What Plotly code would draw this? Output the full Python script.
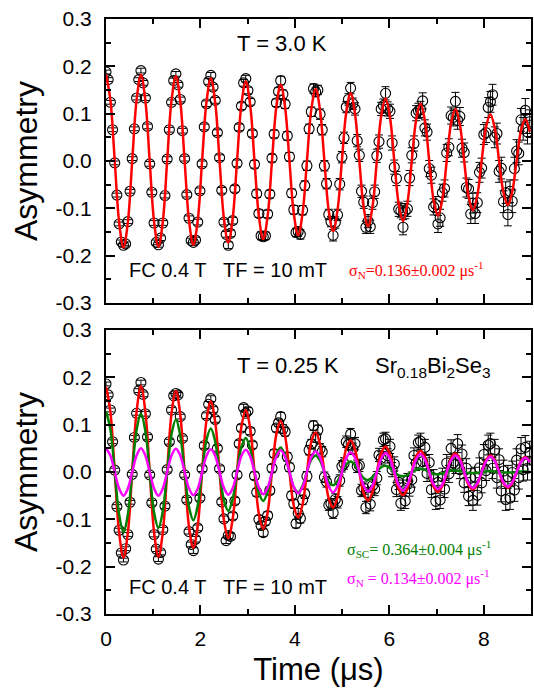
import plotly.graph_objects as go

# ---------------- data ----------------
time_us = [
    0.000, 0.046, 0.093, 0.139, 0.185, 0.231, 0.278, 0.324, 0.370, 0.416, 0.463, 0.509, 0.555, 0.601, 0.648, 0.694,
    0.740, 0.786, 0.833, 0.879, 0.925, 0.971, 1.018, 1.064, 1.110, 1.156, 1.203, 1.249, 1.295, 1.341, 1.388, 1.434,
    1.480, 1.526, 1.573, 1.619, 1.665, 1.711, 1.758, 1.804, 1.850, 1.896, 1.943, 1.989, 2.035, 2.081, 2.128, 2.174,
    2.220, 2.266, 2.313, 2.359, 2.405, 2.451, 2.498, 2.544, 2.590, 2.636, 2.683, 2.729, 2.775, 2.821, 2.868, 2.914,
    2.960, 3.006, 3.053, 3.099, 3.145, 3.191, 3.238, 3.284, 3.330, 3.376, 3.423, 3.469, 3.515, 3.561, 3.608, 3.654,
    3.700, 3.746, 3.793, 3.839, 3.885, 3.931, 3.978, 4.024, 4.070, 4.116, 4.163, 4.209, 4.255, 4.301, 4.348, 4.394,
    4.440, 4.486, 4.533, 4.579, 4.625, 4.671, 4.718, 4.764, 4.810, 4.856, 4.903, 4.949, 4.995, 5.041, 5.088, 5.134,
    5.180, 5.226, 5.273, 5.319, 5.365, 5.411, 5.458, 5.504, 5.550, 5.596, 5.643, 5.689, 5.735, 5.781, 5.828, 5.874,
    5.920, 5.966, 6.013, 6.059, 6.105, 6.151, 6.198, 6.244, 6.290, 6.336, 6.383, 6.429, 6.475, 6.521, 6.568, 6.614,
    6.660, 6.706, 6.753, 6.799, 6.845, 6.891, 6.938, 6.984, 7.030, 7.076, 7.123, 7.169, 7.215, 7.261, 7.308, 7.354,
    7.400, 7.446, 7.493, 7.539, 7.585, 7.631, 7.678, 7.724, 7.770, 7.816, 7.863, 7.909, 7.955, 8.001, 8.048, 8.094,
    8.140, 8.186, 8.233, 8.279, 8.325, 8.371, 8.418, 8.464, 8.510, 8.556, 8.603, 8.649, 8.695, 8.741, 8.788, 8.834,
    8.880, 8.926, 8.973,
]

# T = 3.0 K asymmetry points
asym_3K = [
    0.188, 0.172, 0.124, 0.066, -0.004, -0.072, -0.133, -0.171, -0.178, -0.175, -0.128, -0.064, 0.005, 0.068, 0.133, 0.172,
    0.191, 0.165, 0.133, 0.073, -0.006, -0.066, -0.131, -0.172, -0.177, -0.163, -0.131, -0.073, 0.004, 0.066, 0.124, 0.170,
    0.184, 0.161, 0.130, 0.064, 0.005, -0.071, -0.121, -0.168, -0.172, -0.167, -0.129, -0.063, -0.006, 0.072, 0.121, 0.168,
    0.181, 0.156, 0.128, 0.060, 0.007, -0.062, -0.129, -0.155, -0.178, -0.153, -0.126, -0.059, -0.005, 0.071, 0.116, 0.165,
    0.174, 0.149, 0.125, 0.058, -0.007, -0.069, -0.111, -0.158, -0.160, -0.158, -0.112, -0.070, 0.006, 0.057, 0.123, 0.147,
    0.170, 0.141, 0.120, 0.053, 0.009, -0.068, -0.103, -0.151, -0.149, -0.155, -0.104, -0.052, -0.010, 0.068, 0.104, 0.153,
    0.146, 0.150, 0.099, 0.066, -0.010, -0.048, -0.113, -0.128, -0.157, -0.130, -0.114, -0.049, 0.008, 0.049, 0.114, 0.130,
    0.154, 0.121, 0.110, 0.043, 0.012, -0.064, -0.087, -0.140, -0.127, -0.139, -0.088, -0.065, 0.011, 0.041, 0.110, 0.117,
    0.143, 0.110, 0.105, 0.038, -0.013, -0.037, -0.102, -0.105, -0.140, -0.106, -0.101, -0.036, 0.012, 0.037, 0.101, 0.106,
    0.109, 0.127, 0.070, 0.061, -0.016, -0.030, -0.097, -0.092, -0.133, -0.120, -0.067, -0.058, 0.017, 0.029, 0.096, 0.092,
    0.126, 0.086, 0.094, 0.027, 0.018, -0.056, -0.059, -0.112, -0.089, -0.111, -0.088, -0.024, -0.015, 0.056, 0.060, 0.113,
    0.125, 0.140, 0.050, 0.058, -0.022, -0.015, -0.086, -0.067, -0.113, -0.064, -0.085, -0.016, 0.021, 0.016, 0.087, 0.068,
    0.107, 0.061, 0.083,
]

# T = 0.25 K asymmetry points
asym_025K = [
    0.186, 0.163, 0.131, 0.064, 0.004, -0.073, -0.123, -0.171, -0.186, -0.162, -0.132, -0.064, -0.005, 0.073, 0.124, 0.172,
    0.189, 0.164, 0.123, 0.074, -0.006, -0.065, -0.132, -0.163, -0.184, -0.170, -0.122, -0.072, 0.005, 0.064, 0.131, 0.161,
    0.166, 0.163, 0.117, 0.071, -0.006, -0.059, -0.126, -0.153, -0.166, -0.142, -0.118, -0.055, 0.007, 0.056, 0.119, 0.143,
    0.155, 0.132, 0.111, 0.050, 0.007, -0.063, -0.099, -0.145, -0.134, -0.136, -0.093, -0.061, -0.006, 0.060, 0.093, 0.136,
    0.124, 0.129, 0.086, 0.057, -0.008, -0.043, -0.100, -0.113, -0.128, -0.104, -0.092, -0.039, 0.008, 0.039, 0.093, 0.104,
    0.117, 0.091, 0.085, 0.032, 0.010, -0.050, -0.067, -0.109, -0.087, -0.098, -0.059, -0.046, -0.009, 0.046, 0.059, 0.098,
    0.073, 0.089, 0.049, 0.043, -0.011, -0.021, -0.070, -0.067, -0.086, -0.058, -0.064, -0.018, 0.012, 0.018, 0.064, 0.058,
    0.080, 0.049, 0.060, 0.012, 0.014, -0.039, -0.034, -0.075, -0.047, -0.068, -0.029, -0.036, -0.013, 0.036, 0.029, 0.068,
    0.070, 0.034, 0.054, 0.005, 0.017, -0.037, -0.022, -0.066, -0.033, -0.061, -0.019, -0.035, -0.016, 0.035, 0.019, 0.062,
    0.065, 0.022, 0.052, -0.003, 0.020, -0.037, -0.012, -0.062, -0.022, -0.059, -0.010, -0.036, 0.019, -0.004, 0.050, 0.019,
    0.016, 0.060, 0.005, 0.038, -0.023, 0.008, -0.051, -0.013, -0.060, -0.011, -0.049, 0.009, -0.023, 0.037, 0.003, 0.057,
    0.060, 0.008, 0.047, -0.012, 0.026, -0.040, 0.002, -0.058, -0.010, -0.055, -0.001, -0.038, 0.025, -0.012, 0.049, 0.005,
    0.052, 0.008, 0.040,
]

# statistical error of each point
asym_err = [
    0.004, 0.004, 0.004, 0.004, 0.004, 0.004, 0.004, 0.004, 0.004, 0.004, 0.004, 0.004, 0.004, 0.004, 0.004, 0.004,
    0.005, 0.005, 0.005, 0.005, 0.005, 0.005, 0.005, 0.005, 0.005, 0.005, 0.005, 0.005, 0.005, 0.005, 0.005, 0.005,
    0.005, 0.005, 0.005, 0.005, 0.005, 0.005, 0.005, 0.005, 0.006, 0.006, 0.006, 0.006, 0.006, 0.006, 0.006, 0.006,
    0.006, 0.006, 0.006, 0.006, 0.006, 0.006, 0.006, 0.006, 0.007, 0.007, 0.007, 0.007, 0.007, 0.007, 0.007, 0.007,
    0.007, 0.007, 0.007, 0.007, 0.008, 0.008, 0.008, 0.008, 0.008, 0.008, 0.008, 0.008, 0.008, 0.008, 0.008, 0.008,
    0.009, 0.009, 0.009, 0.009, 0.009, 0.009, 0.009, 0.009, 0.010, 0.010, 0.010, 0.010, 0.010, 0.010, 0.010, 0.010,
    0.010, 0.010, 0.011, 0.011, 0.011, 0.011, 0.011, 0.011, 0.012, 0.012, 0.012, 0.012, 0.012, 0.012, 0.012, 0.012,
    0.012, 0.012, 0.013, 0.013, 0.013, 0.013, 0.013, 0.013, 0.014, 0.014, 0.014, 0.014, 0.014, 0.014, 0.014, 0.014,
    0.014, 0.015, 0.015, 0.015, 0.015, 0.015, 0.015, 0.015, 0.016, 0.016, 0.016, 0.016, 0.016, 0.016, 0.016, 0.016,
    0.017, 0.017, 0.017, 0.017, 0.017, 0.017, 0.017, 0.017, 0.018, 0.018, 0.018, 0.018, 0.018, 0.018, 0.018, 0.018,
    0.019, 0.019, 0.019, 0.019, 0.020, 0.020, 0.020, 0.020, 0.021, 0.021, 0.021, 0.021, 0.021, 0.021, 0.021, 0.021,
    0.022, 0.022, 0.022, 0.022, 0.023, 0.023, 0.023, 0.023, 0.024, 0.024, 0.024, 0.024, 0.024, 0.024, 0.024, 0.024,
    0.025, 0.025, 0.025,
]

# fitted curves, sampled on every second time bin
fit_time = time_us[::2]

fit_3K = [
    0.183, 0.129, 0.0, -0.129, -0.183, -0.129, 0.0, 0.129,
    0.182, 0.128, 0.0, -0.128, -0.181, -0.128, 0.0, 0.128,
    0.179, 0.126, 0.0, -0.126, -0.177, -0.125, 0.0, 0.125,
    0.175, 0.123, 0.0, -0.122, -0.172, -0.121, 0.0, 0.120,
    0.168, 0.118, 0.0, -0.117, -0.165, -0.116, 0.0, 0.115,
    0.161, 0.113, 0.0, -0.112, -0.157, -0.110, 0.0, 0.109,
    0.152, 0.107, 0.0, -0.106, -0.148, -0.104, 0.0, 0.103,
    0.143, 0.100, 0.0, -0.099, -0.138, -0.097, 0.0, 0.095,
    0.132, 0.093, 0.0, -0.091, -0.127, -0.089, 0.0, 0.087,
    0.121, 0.085, 0.0, -0.083, -0.116, -0.081, 0.0, 0.080,
    0.110, 0.077, 0.0, -0.075, -0.104, -0.073, 0.0, 0.072,
    0.099, 0.069, 0.0, -0.067, -0.093, -0.065, 0.0, 0.064,
    0.088, 0.062,
]

fit_025K_total = [
    0.180, 0.127, 0.0, -0.128, -0.181, -0.128, 0.0, 0.128,
    0.181, 0.128, 0.0, -0.127, -0.179, -0.127, 0.0, 0.124,
    0.171, 0.121, 0.0, -0.116, -0.160, -0.113, 0.0, 0.109,
    0.149, 0.105, 0.0, -0.102, -0.140, -0.099, 0.0, 0.096,
    0.131, 0.093, 0.0, -0.089, -0.120, -0.085, 0.0, 0.080,
    0.108, 0.076, 0.0, -0.072, -0.096, -0.068, 0.0, 0.064,
    0.084, 0.059, 0.0, -0.056, -0.075, -0.053, 0.0, 0.050,
    0.067, 0.047, 0.0, -0.045, -0.060, -0.042, 0.0, 0.040,
    0.054, 0.038, 0.0, -0.036, -0.049, -0.035, 0.0, 0.033,
    0.045, 0.032, 0.0, -0.031, -0.042, -0.030, 0.0, 0.029,
    0.039, 0.028, 0.0, -0.027, -0.037, -0.026, 0.0, 0.025,
    0.035, 0.025, 0.0, -0.024, -0.033, -0.023, 0.0, 0.023,
    0.031, 0.022,
]

fit_025K_sc = [
    0.128, 0.090, 0.0, -0.090, -0.127, -0.090, 0.0, 0.089,
    0.123, 0.087, 0.0, -0.086, -0.118, -0.083, 0.0, 0.080,
    0.111, 0.077, 0.0, -0.074, -0.102, -0.071, 0.0, 0.068,
    0.092, 0.064, 0.0, -0.060, -0.082, -0.057, 0.0, 0.053,
    0.072, 0.049, 0.0, -0.045, -0.061, -0.042, 0.0, 0.038,
    0.052, 0.035, 0.0, -0.032, -0.043, -0.029, 0.0, 0.026,
    0.035, 0.024, 0.0, -0.021, -0.028, -0.019, 0.0, 0.016,
    0.022, 0.015, 0.0, -0.013, -0.017, -0.011, 0.0, 0.010,
    0.013, 0.008, 0.0, -0.007, -0.009, -0.006, 0.0, 0.005,
    0.007, 0.005, 0.0, -0.004, -0.005, -0.003, 0.0, 0.003,
    0.003, 0.002, 0.0, -0.002, -0.002, -0.002, 0.0, 0.001,
    0.002, 0.001, 0.0, -0.001, -0.001, -0.001, 0.0, 0.001,
    0.001, 0.000,
]

fit_025K_n = [
    0.050, 0.035, 0.0, -0.035, -0.050, -0.035, 0.0, 0.035,
    0.050, 0.035, 0.0, -0.035, -0.050, -0.035, 0.0, 0.035,
    0.049, 0.035, 0.0, -0.035, -0.049, -0.035, 0.0, 0.034,
    0.048, 0.034, 0.0, -0.034, -0.048, -0.034, 0.0, 0.034,
    0.047, 0.033, 0.0, -0.033, -0.047, -0.033, 0.0, 0.033,
    0.046, 0.032, 0.0, -0.032, -0.045, -0.032, 0.0, 0.031,
    0.044, 0.031, 0.0, -0.031, -0.043, -0.030, 0.0, 0.030,
    0.042, 0.030, 0.0, -0.029, -0.041, -0.029, 0.0, 0.028,
    0.040, 0.028, 0.0, -0.028, -0.039, -0.027, 0.0, 0.027,
    0.038, 0.026, 0.0, -0.026, -0.036, -0.026, 0.0, 0.025,
    0.035, 0.025, 0.0, -0.024, -0.034, -0.024, 0.0, 0.023,
    0.033, 0.023, 0.0, -0.022, -0.031, -0.022, 0.0, 0.021,
    0.030, 0.021,
]

x_tick_vals = [0, 2, 4, 6, 8]
x_tick_text = ["0", "2", "4", "6", "8"]
y_tick_vals = [-0.3, -0.2, -0.1, 0.0, 0.1, 0.2, 0.3]
y_tick_text = ["-0.3", "-0.2", "-0.1", "0.0", "0.1", "0.2", "0.3"]

# ---------------- figure ----------------
SANS = "Liberation Sans, Arial, Helvetica, sans-serif"
SERIF = "Liberation Serif, Times New Roman, serif"

fig = go.Figure()


def add_points(y, xa, ya):
    fig.add_trace(go.Scatter(
        x=time_us, y=y, mode="markers", xaxis=xa, yaxis=ya,
        marker=dict(symbol="circle-open", size=10, color="black", line=dict(width=1.1, color="black")),
        error_y=dict(type="data", array=asym_err, visible=True, color="black", thickness=1, width=4),
        showlegend=False, hoverinfo="skip",
    ))


def add_line(y, color, xa, ya):
    fig.add_trace(go.Scatter(
        x=fit_time, y=y, mode="lines", xaxis=xa, yaxis=ya,
        line=dict(color=color, width=2.5, shape="spline", smoothing=1.0),
        showlegend=False, hoverinfo="skip",
    ))


add_points(asym_3K, "x", "y")
add_line(fit_3K, "#ff0000", "x", "y")

add_points(asym_025K, "x2", "y2")
add_line(fit_025K_total, "#ff0000", "x2", "y2")
add_line(fit_025K_sc, "#008000", "x2", "y2")
add_line(fit_025K_n, "#ff00ff", "x2", "y2")

axis_common = dict(
    showline=True, linewidth=2, linecolor="black", mirror="ticks",
    ticks="inside", ticklen=9, tickwidth=1.5, tickcolor="black",
    showgrid=False, zeroline=False, automargin=False,
    tickfont=dict(family=SANS, size=21, color="black"),
)

xaxis_common = dict(axis_common, range=[0, 9], tickmode="array",
                    tickvals=x_tick_vals, ticktext=x_tick_text,
                    minor=dict(ticks="inside", ticklen=5, tickwidth=1.5, tickcolor="black",
                               tickmode="linear", tick0=0, dtick=1, showgrid=False))
yaxis_common = dict(axis_common, range=[-0.3, 0.3], tickmode="array",
                    tickvals=y_tick_vals, ticktext=y_tick_text, ticklabelstandoff=8,
                    minor=dict(ticks="inside", ticklen=5, tickwidth=1.5, tickcolor="black",
                               tickmode="linear", tick0=0, dtick=0.05, showgrid=False),
                    title=dict(text="Asymmetry", font=dict(family=SANS, size=32, color="black"), standoff=8))

fig.update_layout(
    width=534, height=690,
    margin=dict(l=106, r=3, t=19, b=76, autoexpand=False),
    paper_bgcolor="white", plot_bgcolor="white",
    font=dict(family=SANS, color="black"),
    xaxis=dict(xaxis_common, anchor="y", domain=[0, 1], showticklabels=False),
    yaxis=dict(yaxis_common, anchor="x", domain=[0.5227, 1.0]),
    xaxis2=dict(xaxis_common, anchor="y2", domain=[0, 1], ticklabelstandoff=5,
                title=dict(text="Time (\u03bcs)", font=dict(family=SANS, size=31, color="black"), standoff=9)),
    yaxis2=dict(yaxis_common, anchor="x2", domain=[0.0, 0.4773]),
    showlegend=False,
)

NB = "\u00a0"
annotations = [
    dict(text="T = 3.0 K", x=2.73, y=0.249, xref="x", yref="y", xanchor="left", yanchor="middle",
         font=dict(family=SANS, size=22, color="black")),
    dict(text="FC 0.4 T" + NB * 3 + "TF = 10 mT", x=0.44, y=-0.231, xref="x", yref="y",
         xanchor="left", yanchor="middle", font=dict(family=SANS, size=20, color="black")),
    dict(text="\u03c3<sub>N</sub>=0.136\u00b10.002 \u03bcs<sup>-1</sup>", x=5.10, y=-0.231, xref="x", yref="y",
         xanchor="left", yanchor="middle", font=dict(family=SERIF, size=16, color="#ff0000")),
    dict(text="T = 0.25 K", x=2.73, y=0.226, xref="x2", yref="y2", xanchor="left", yanchor="middle",
         font=dict(family=SANS, size=22, color="black")),
    dict(text="Sr<sub>0.18</sub>Bi<sub>2</sub>Se<sub>3</sub>", x=5.65, y=0.222, xref="x2", yref="y2",
         xanchor="left", yanchor="middle", font=dict(family=SANS, size=22, color="black")),
    dict(text="\u03c3<sub>SC</sub>= 0.364\u00b10.004 \u03bcs<sup>-1</sup>", x=5.06, y=-0.163, xref="x2", yref="y2",
         xanchor="left", yanchor="middle", font=dict(family=SERIF, size=16, color="#008000")),
    dict(text="\u03c3<sub>N</sub>" + NB + "= 0.134\u00b10.002 \u03bcs<sup>-1</sup>", x=5.06, y=-0.224, xref="x2", yref="y2",
         xanchor="left", yanchor="middle", font=dict(family=SERIF, size=16, color="#ff00ff")),
    dict(text="FC 0.4 T" + NB * 3 + "TF = 10 mT", x=0.44, y=-0.243, xref="x2", yref="y2",
         xanchor="left", yanchor="middle", font=dict(family=SANS, size=20, color="black")),
]
for a in annotations:
    a["showarrow"] = False
fig.update_layout(annotations=annotations)

fig.write_html("out.html", config={"displayModeBar": False},
               post_script="document.body.style.margin='0px';document.body.style.overflow='hidden';")
